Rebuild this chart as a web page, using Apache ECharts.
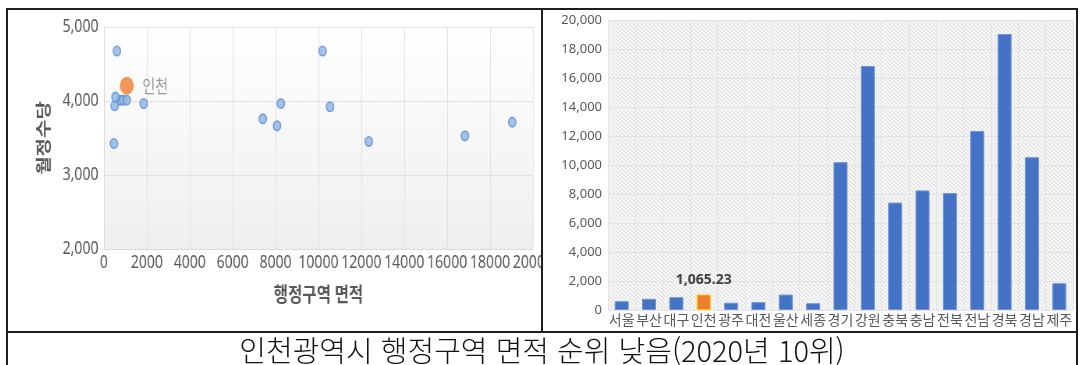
<!DOCTYPE html>
<html lang="ko">
<head>
<meta charset="utf-8">
<script src="https://cdn.jsdelivr.net/npm/echarts@6/dist/echarts.min.js"></script>
<style>
  html, body { margin: 0; padding: 0; background: #fff; }
  body { width: 1080px; height: 365px; position: relative; overflow: hidden; }
  .frame { position: absolute; left: 6px; top: 8px; width: 1068px; height: 380px; border: 2px solid #1e1e1e; }
  .hline { position: absolute; left: 6px; top: 331px; width: 1072px; height: 2px; background: #1e1e1e; }
  .vline { position: absolute; left: 541px; top: 8px; width: 2px; height: 325px; background: #1e1e1e; }
  /* the source picture of the scatter is squeezed horizontally, so draw it wide and squeeze it */
  #scatter { position: absolute; left: 8px; top: 10px; width: 683px; height: 321px;
             transform: scaleX(0.78); transform-origin: 0 0; }
  #bars { position: absolute; left: 543px; top: 10px; width: 533px; height: 321px; }
  .caption {
    position: absolute; left: 8px; top: 333px; width: 1068px; height: 32px;
    line-height: 32px; text-align: center; color: #111;
    font-family: 'Noto Sans CJK KR', sans-serif; font-size: 29px; font-weight: 300;
  }
</style>
</head>
<body>
<div class="frame"></div>
<div class="hline"></div>
<div class="vline"></div>
<div id="scatter"></div>
<div id="bars"></div>
<div class="caption">인천광역시 행정구역 면적 순위 낮음(2020년 10위)</div>

<script>
// 시도별 행정구역 면적(km²)과 월정수당(천원)
const regions = ['서울', '부산', '대구', '인천', '광주', '대전', '울산', '세종', '경기',
                 '강원', '충북', '충남', '전북', '전남', '경북', '경남', '제주']
const areas = [605, 770, 883, 1065.23, 501, 540, 1062, 465, 10195,
               16830, 7407, 8246, 8070, 12348, 19034, 10540, 1850]
const allowances = [4675, 4010, 4012, 4206, 3935, 4053, 4012, 3425, 4675,
                    3529, 3759, 3966, 3664, 3452, 3714, 3922, 3966]
const highlight = '인천'

const hi = regions.indexOf(highlight)
const numFont = "'Noto Sans', sans-serif"
const krFont = "'Noto Sans CJK KR', sans-serif"

// 왼쪽: 면적 vs 월정수당 산점도
const scatter = echarts.init(document.getElementById('scatter'))
scatter.setOption({
    animation: false,
    grid: {
        left: 123, top: 17, width: 550, height: 222,
        outerBoundsMode: 'none',
        show: true,
        borderWidth: 0,
        backgroundColor: new echarts.graphic.LinearGradient(0, 0, 0, 1, [
            { offset: 0, color: '#ffffff' },
            { offset: 1, color: '#efefef' }
        ])
    },
    xAxis: {
        type: 'value',
        min: 0, max: 20000, interval: 2000,
        name: '행정구역 면적',
        nameLocation: 'middle',
        nameGap: 35,
        nameTextStyle: { fontFamily: krFont, fontSize: 20, fontWeight: 'bold', color: '#595959' },
        axisLine: { show: true, lineStyle: { color: '#d9d9d9' } },
        axisTick: { show: false },
        axisLabel: {
            formatter: v => String(v),
            showMinLabel: true, showMaxLabel: true, hideOverlap: false,
            fontFamily: numFont, fontSize: 18, color: '#595959', margin: 5
        },
        splitLine: { show: true, lineStyle: { color: '#e2e2e2' } }
    },
    yAxis: {
        type: 'value',
        min: 2000, max: 5000, interval: 1000,
        name: '월정수당',
        nameLocation: 'middle',
        nameGap: 68,
        nameTextStyle: { fontFamily: krFont, fontSize: 20, fontWeight: 'bold', color: '#595959' },
        axisLine: { show: true, lineStyle: { color: '#d9d9d9' } },
        axisTick: { show: false },
        axisLabel: { fontFamily: numFont, fontSize: 18, color: '#595959', margin: 7 },
        splitLine: { show: true, lineStyle: { color: '#e2e2e2' } }
    },
    series: [
        {
            type: 'scatter',
            symbolSize: 9.5,
            itemStyle: { color: '#8db4e2', borderColor: '#5b8fd2', borderWidth: 1.6 },
            data: areas.map((a, i) => [a, allowances[i]]).filter((_, i) => i !== hi)
        },
        {
            type: 'scatter',
            symbolSize: 18,
            itemStyle: { color: '#ed7d31' },
            label: {
                show: true, position: 'right', distance: 11,
                formatter: highlight,
                fontFamily: krFont, fontSize: 18, color: '#7f7f7f'
            },
            data: [[areas[hi], allowances[hi]]]
        }
    ]
})

// 오른쪽: 시도별 면적 막대
const hatch = document.createElement('canvas')
hatch.width = 4
hatch.height = 4
const ctx = hatch.getContext('2d')
ctx.fillStyle = '#f6f6f6'
ctx.fillRect(0, 0, 4, 4)
ctx.strokeStyle = '#dedede'
ctx.lineWidth = 1
ctx.beginPath()
ctx.moveTo(0, 0); ctx.lineTo(4, 4)
ctx.moveTo(-1, 3); ctx.lineTo(1, 5)
ctx.moveTo(3, -1); ctx.lineTo(5, 1)
ctx.stroke()

const bars = echarts.init(document.getElementById('bars'))
bars.setOption({
    animation: false,
    grid: {
        left: 65, top: 10, width: 465, height: 290,
        outerBoundsMode: 'none',
        show: true,
        borderWidth: 0,
        backgroundColor: { image: hatch, repeat: 'repeat' }
    },
    xAxis: {
        type: 'category',
        data: regions,
        axisLine: { show: false },
        axisTick: { show: false },
        axisLabel: { interval: 0, fontFamily: krFont, fontSize: 14, color: '#595959', margin: 3 },
        splitLine: { show: true, lineStyle: { color: '#e4e4e4' } }
    },
    yAxis: {
        type: 'value',
        min: 0, max: 20000, interval: 2000,
        axisLine: { show: false },
        axisTick: { show: false },
        axisLabel: { fontFamily: numFont, fontSize: 13, color: '#595959', margin: 6 },
        splitLine: { show: true, lineStyle: { color: '#e4e4e4' } }
    },
    series: [{
        type: 'bar',
        barWidth: 14,
        itemStyle: { color: '#4472c4', borderColor: '#6d93d8', borderWidth: 1 },
        data: areas.map((v, i) => i === hi ? {
            value: v,
            itemStyle: { color: '#ed7d31', borderColor: '#ffc000', borderWidth: 1 },
            label: {
                show: true, position: 'top', distance: 8,
                formatter: p => p.value.toLocaleString('en-US', { minimumFractionDigits: 2 }),
                fontFamily: numFont, fontSize: 14, fontWeight: 'bold', color: '#404040'
            }
        } : v)
    }]
})
</script>
</body>
</html>
